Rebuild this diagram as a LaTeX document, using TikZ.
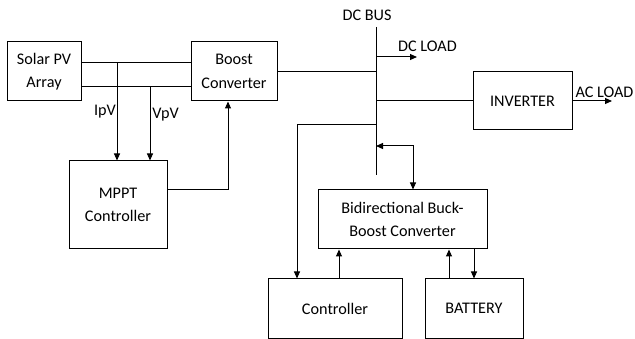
\documentclass[tikz,border=0pt]{standalone}
\usepackage{fontspec}
\setmainfont{Carlito}
\usetikzlibrary{arrows.meta,calc}
\begin{document}
\begin{tikzpicture}[x=1pt,y=-1pt,
  box/.style={draw,line width=1pt,align=center,inner sep=0pt,
    font=\fontsize{16.2}{23.5}\selectfont},
  lbl/.style={inner sep=0pt,font=\fontsize{16.2}{18}\selectfont},
  ln/.style={line width=1pt},
  arr/.style={ln,-{Triangle[length=7pt,width=6pt]}},
  arrb/.style={ln,{Triangle[length=7pt,width=6pt]}-{Triangle[length=7pt,width=6pt]}}]
\useasboundingbox (0,0) rectangle (635,339);
\node[box,minimum width=74pt,minimum height=59pt] (solar) at (44,71.5) {Solar PV\\Array};
\node[box,minimum width=86pt,minimum height=59pt] (boost) at (234,71.5) {Boost\\Converter};
\node[box,minimum width=98pt,minimum height=88pt] (mppt) at (118,205) {MPPT\\Controller};
\node[box,minimum width=99pt,minimum height=58pt] (inv) at (522.5,101) {INVERTER};
\node[box,minimum width=169pt,minimum height=59pt] (bidir) at (402.5,219.5) {Bidirectional Buck-\\Boost Converter};
\node[box,minimum width=134pt,minimum height=59pt] (ctrl) at (335,308.5) {Controller};
\node[box,minimum width=98pt,minimum height=59pt] (bat) at (474,308.5) {BATTERY};
% bus
\coordinate (bustop) at (376,27);
\coordinate (busbot) at (376,175);
\draw[ln] (bustop) -- (busbot);
\node[lbl] (busl) at (367,15) {DC BUS};
% PV lines
\coordinate (ipv) at (117,63);
\coordinate (vpv) at (150,87);
\draw[ln] (solar.east |- ipv) -- (boost.west |- ipv);
\draw[ln] (solar.east |- vpv) -- (boost.west |- vpv);
\draw[arr] (ipv) -- (ipv |- mppt.north);
\draw[arr] (vpv) -- (vpv |- mppt.north);
\node[lbl] (ipvl) at (105,112) {IpV};
\node[lbl] (vpvl) at (165.5,115) {VpV};
% MPPT to boost
\coordinate (mo) at (228,190);
\draw[arr] (mppt.east |- mo) -| (boost.south -| mo);
% boost to bus
\coordinate (bo) at (376,72);
\draw[ln] (boost.east |- bo) -- (bo);
% DC load
\coordinate (dcs) at (376,57);
\coordinate (dce) at (417,57);
\draw[arr] (dcs) -- (dce);
\node[lbl] (dcl) at (427.5,46) {DC LOAD};
% inverter
\coordinate (io) at (376,101);
\draw[ln] (io) -- (inv.west |- io);
\coordinate (acl) at (612,101);
\draw[arr] (inv.east |- acl) -- (acl);
\node[lbl] (acll) at (604.5,92) {AC LOAD};
% controller line
\coordinate (co) at (376,125);
\coordinate (cx) at (297,125);
\draw[arr] (co) -- (cx) -- (cx |- ctrl.north);
% bus <-> bidir
\coordinate (bb) at (376,146);
\coordinate (bx) at (413,146);
\draw[arrb] (bb) -- (bx) -- (bx |- bidir.north);
% controller to bidir
\coordinate (c2) at (339,279);
\draw[arr] (c2 |- ctrl.north) -- (c2 |- bidir.south);
% battery
\coordinate (b1) at (449,279);
\coordinate (b2) at (474,279);
\draw[arr] (b1 |- bat.north) -- (b1 |- bidir.south);
\draw[arr] (b2 |- bidir.south) -- (b2 |- bat.north);
\end{tikzpicture}
\end{document}
